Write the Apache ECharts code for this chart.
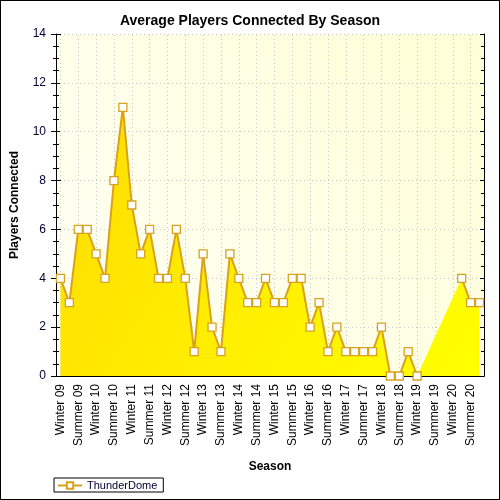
<!DOCTYPE html>
<html>
<head>
<meta charset="utf-8">
<script src="https://cdn.jsdelivr.net/npm/echarts@6/dist/echarts.min.js"></script>
<style>
  html, body { margin: 0; padding: 0; background: #fff; }
  #main { width: 500px; height: 500px; box-sizing: border-box; border: 1px solid #000; }
</style>
</head>
<body>
<div id="main"></div>
<script>
// seasons labelled on the axis, one unlabelled sample between each pair
var seasons = ['Winter 09', 'Summer 09', 'Winter 10', 'Summer 10', 'Winter 11', 'Summer 11',
  'Winter 12', 'Summer 12', 'Winter 13', 'Summer 13', 'Winter 14', 'Summer 14',
  'Winter 15', 'Summer 15', 'Winter 16', 'Summer 16', 'Winter 17', 'Summer 17',
  'Winter 18', 'Summer 18', 'Winter 19', 'Summer 19', 'Winter 20', 'Summer 20'];

// average players connected (null = no data)
var players = [4, 3, 6, 6, 5, 4, 8, 11, 7, 5, 6, 4, 4, 6, 4, 1,
  5, 2, 1, 5, 4, 3, 3, 4, 3, 3, 4, 4, 2, 3, 1, 2,
  1, 1, 1, 1, 2, 0, 0, 1, 0, null, null, null, null, 4, 3, 3];

var yTicks = [0, 14, 2];  // min, max, step

var cats = [];
seasons.forEach(function (s) { cats.push(s); cats.push(''); });

var gridMarks = [];
for (var i = 0; i < cats.length; i += 2) gridMarks.push({ xAxis: i });

var lineCol = '#d9a21c';
var dotted = { color: '#c8c8c8', type: [1, 3], width: 1 };
var font = 'Liberation Sans, Arial, sans-serif';

var chart = echarts.init(document.getElementById('main'));

chart.setOption({
  animation: false,
  title: {
    text: 'Average Players Connected By Season',
    left: 'center', top: 8,
    textStyle: { fontFamily: font, fontSize: 14, fontWeight: 'bold', color: '#000' }
  },
  legend: {
    left: 53, top: 477,
    data: ['ThunderDome'],
    itemWidth: 24, itemHeight: 8, itemGap: 6,
    padding: [2, 6, 1, 3],
    borderColor: '#000', borderWidth: 1, borderRadius: 0,
    textStyle: { fontFamily: font, fontSize: 11, color: '#000033' }
  },
  grid: {
    left: 53, right: 15, top: 33, bottom: 123,
    show: true, borderWidth: 0,
    backgroundColor: new echarts.graphic.LinearGradient(0, 1, 1, 0, [
      { offset: 0, color: '#fffff6' },
      { offset: 1, color: '#ffffd6' }
    ])
  },
  xAxis: [{
    type: 'category', data: cats, position: 'bottom', boundaryGap: true,
    name: 'Season', nameLocation: 'middle', nameGap: 85,
    nameTextStyle: { fontFamily: font, fontSize: 12, fontWeight: 'bold', color: '#000' },
    axisLine: { lineStyle: { color: '#000', width: 1 } },
    axisTick: { alignWithLabel: true, interval: 1, length: 4, lineStyle: { color: '#000' } },
    axisLabel: { interval: 0, rotate: 90, margin: 8, fontFamily: font, fontSize: 12, color: '#000' },
    splitLine: { show: false }
  }, {
    type: 'category', data: cats, position: 'bottom', boundaryGap: true,
    axisLine: { show: false },
    axisTick: { alignWithLabel: true, interval: 1, inside: true, length: 4, lineStyle: { color: '#000' } },
    axisLabel: { show: false }, splitLine: { show: false }
  }, {
    type: 'category', data: cats, position: 'top', boundaryGap: true,
    axisLine: { lineStyle: { color: '#000', width: 1 } },
    axisTick: { alignWithLabel: true, interval: 1, inside: true, length: 4, lineStyle: { color: '#000' } },
    axisLabel: { show: false }, splitLine: { show: false }
  }],
  yAxis: [{
    type: 'value', position: 'left', min: yTicks[0], max: yTicks[1], interval: yTicks[2],
    name: 'Players Connected', nameLocation: 'middle', nameGap: 35,
    nameTextStyle: { fontFamily: font, fontSize: 12, fontWeight: 'bold', color: '#000' },
    axisLine: { show: true, lineStyle: { color: '#000', width: 1 } },
    axisTick: { show: true, length: 5, lineStyle: { color: '#000' } },
    minorTick: { show: true, splitNumber: 4, length: 3, lineStyle: { color: '#000' } },
    axisLabel: { margin: 10, fontFamily: font, fontSize: 12, color: '#000033' },
    splitLine: { show: true, lineStyle: dotted }
  }, {
    type: 'value', position: 'left', min: yTicks[0], max: yTicks[1], interval: yTicks[2],
    axisLine: { show: false },
    axisTick: { show: true, inside: true, length: 5, lineStyle: { color: '#000' } },
    minorTick: { show: true, splitNumber: 4, length: 3, lineStyle: { color: '#000' } },
    axisLabel: { show: false }, splitLine: { show: false }
  }, {
    type: 'value', position: 'right', min: yTicks[0], max: yTicks[1], interval: yTicks[2],
    axisLine: { show: true, lineStyle: { color: '#000', width: 1 } },
    axisTick: { show: true, inside: true, length: 4, lineStyle: { color: '#000' } },
    minorTick: { show: true, splitNumber: 4, length: 3, lineStyle: { color: '#000' } },
    axisLabel: { show: false }, splitLine: { show: false }
  }],
  series: [{
    // vertical dotted grid at the labelled seasons, behind the fill
    type: 'line', data: [], z: 1, silent: true,
    markLine: {
      z: 1, silent: true, symbol: 'none', label: { show: false },
      lineStyle: dotted, data: gridMarks
    }
  }, {
    // filled area (gap bridged straight across)
    type: 'line', data: players, connectNulls: true, z: 2, silent: true,
    showSymbol: false, lineStyle: { width: 0 },
    areaStyle: {
      opacity: 1,
      color: new echarts.graphic.LinearGradient(0, 0, 1, 1, [
        { offset: 0, color: '#ffdc00' },
        { offset: 1, color: '#ffff00' }
      ])
    }
  }, {
    name: 'ThunderDome',
    type: 'line', data: players, connectNulls: false, z: 3,
    symbol: 'rect', symbolSize: 8, showAllSymbol: true,
    lineStyle: { color: lineCol, width: 2 },
    itemStyle: { color: '#fff', borderColor: lineCol, borderWidth: 1.3 }
  }]
});
</script>
</body>
</html>
